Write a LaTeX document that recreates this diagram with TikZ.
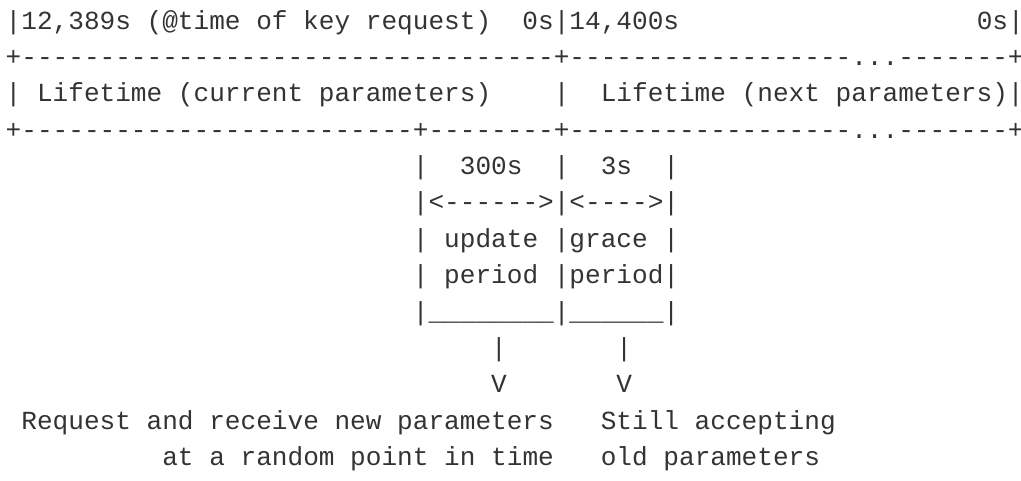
\documentclass[tikz,border=0pt]{standalone}
\usepackage{fontspec}
\setmonofont{Liberation Mono}
\usepackage{tikz}
\newcommand{\inkcolor}{black!80}
\newcommand{\colw}{0.21087}
\tikzset{ascii/.style={font=\ttfamily\fontsize{10}{14}\selectfont, text=\inkcolor, inner sep=0pt, anchor=base west}}

\begin{document}
\begin{tikzpicture}
\useasboundingbox (0,0) rectangle (13.749,-6.477);
%timeline box
\node[ascii] (1) at (0.070, -0.391) {|12,389s~(@time~of~key~request)~~0s|14,400s~~~~~~~~~~~~~~~~~~~0s|};
\node[ascii] (2) at (0.070, -0.881) {+----------------------------------+------------------...-------+};
\node[ascii] (3) at (0.070, -1.371) {|~Lifetime~(current~parameters)~~~~|~~Lifetime~(next~parameters)|};
\node[ascii] (4) at (0.070, -1.861) {+-------------------------+--------+------------------...-------+};
%update and grace periods
\node[ascii] (5) at (5.553, -2.351) {|~~300s~~|~~3s~~|};
\node[ascii] (6) at (5.553, -2.841) {|<------>|<---->|};
\node[ascii] (7) at (5.553, -3.331) {|~update~|grace~|};
\node[ascii] (8) at (5.553, -3.822) {|~period~|period|};
\node[ascii] (9) at (5.553, -4.312) {|\_\_\_\_\_\_\_\_|\_\_\_\_\_\_|};
%pointers
\node[ascii] (10) at (6.607, -4.802) {|~~~~~~~|};
\node[ascii] (11) at (6.607, -5.292) {V~~~~~~~V};
\node[ascii] (12) at (0.281, -5.782) {Request~and~receive~new~parameters~~~Still~accepting};
\node[ascii] (13) at (2.179, -6.272) {at~a~random~point~in~time~~~old~parameters};
\end{tikzpicture}
\end{document}
